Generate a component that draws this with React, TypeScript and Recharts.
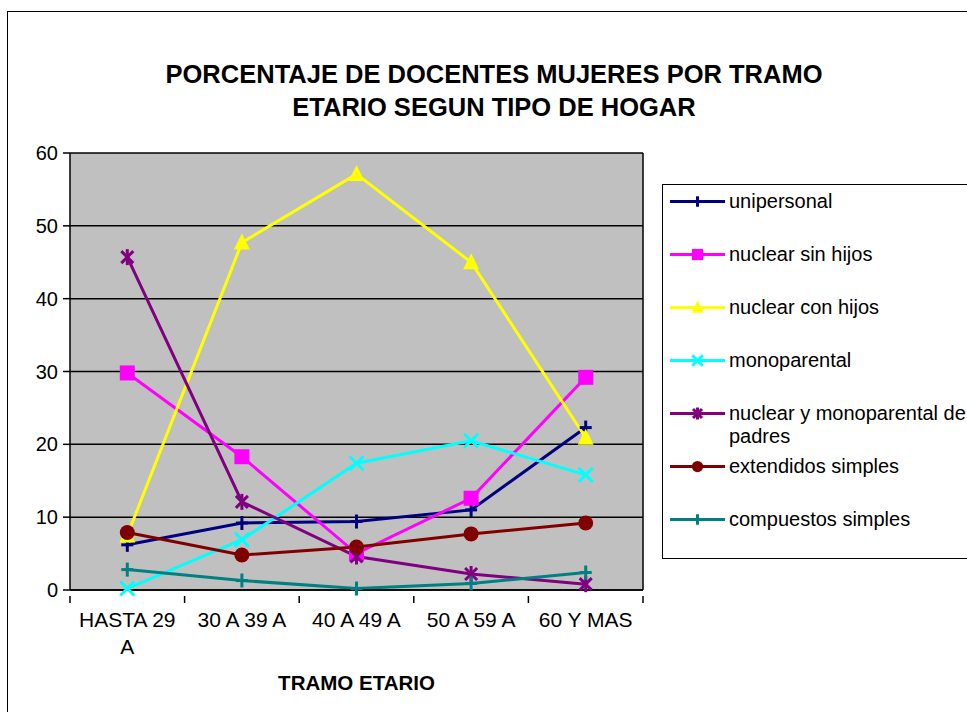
import React from 'react';
import { LineChart, Line, XAxis, YAxis, CartesianGrid, Legend, Label } from 'recharts';

const categories = ['HASTA 29 A', '30 A 39 A', '40 A 49 A', '50 A 59 A', '60 Y MAS'];
const yTicks = [0, 10, 20, 30, 40, 50, 60];

const unipersonal = [6.2, 9.2, 9.4, 11.0, 22.3];
const nuclearSinHijos = [29.8, 18.3, 5.0, 12.6, 29.2];
const nuclearConHijos = [7.5, 47.7, 57.1, 45.0, 20.9];
const monoparental = [0.2, 6.9, 17.4, 20.5, 15.8];
const nuclearYMonoparental = [45.7, 12.1, 4.6, 2.2, 0.8];
const extendidosSimples = [7.9, 4.8, 5.9, 7.7, 9.2];
const compuestosSimples = [2.8, 1.3, 0.2, 0.9, 2.4];

const seriesNames = [
  'unipersonal',
  'nuclear sin hijos',
  'nuclear con hijos',
  'monoparental',
  'nuclear y monoparental de padres',
  'extendidos simples',
  'compuestos simples',
];
const seriesValues = [
  unipersonal,
  nuclearSinHijos,
  nuclearConHijos,
  monoparental,
  nuclearYMonoparental,
  extendidosSimples,
  compuestosSimples,
];
const seriesColors = ['#000080', '#FF00FF', '#FFFF00', '#00FFFF', '#800080', '#800000', '#008080'];
const seriesShapes = ['plus', 'square', 'triangle', 'x', 'star', 'circle', 'plus'];

const data = categories.map((name, i) => {
  const row: Record<string, string | number> = { name };
  seriesNames.forEach((s, j) => {
    row[s] = seriesValues[j][i];
  });
  return row;
});

const FONT = '"Liberation Sans", Arial, Helvetica, sans-serif';
// half of one category band (573px plot / 5 categories)
const HALF_BAND = 57.3;

const drawShape = (shape: string, color: string, cx: number, cy: number, k: number) => {
  const sw = 3;
  switch (shape) {
    case 'plus':
      return (
        <g>
          <line x1={cx} y1={cy - 7 * k} x2={cx} y2={cy + 7 * k} stroke={color} strokeWidth={sw} />
          <line x1={cx - 6 * k} y1={cy} x2={cx + 6 * k} y2={cy} stroke={color} strokeWidth={sw} />
        </g>
      );
    case 'square':
      return <rect x={cx - 7.5 * k} y={cy - 7.5 * k} width={15 * k} height={15 * k} fill={color} />;
    case 'triangle':
      return (
        <polygon
          points={`${cx},${cy - 9 * k} ${cx - 8 * k},${cy + 7 * k} ${cx + 8 * k},${cy + 7 * k}`}
          fill={color}
        />
      );
    case 'x':
      return (
        <g stroke={color} strokeWidth={sw}>
          <line x1={cx - 7 * k} y1={cy - 7 * k} x2={cx + 7 * k} y2={cy + 7 * k} />
          <line x1={cx - 7 * k} y1={cy + 7 * k} x2={cx + 7 * k} y2={cy - 7 * k} />
        </g>
      );
    case 'star':
      return (
        <g stroke={color} strokeWidth={sw}>
          <line x1={cx - 6 * k} y1={cy - 6 * k} x2={cx + 6 * k} y2={cy + 6 * k} />
          <line x1={cx - 6 * k} y1={cy + 6 * k} x2={cx + 6 * k} y2={cy - 6 * k} />
          <line x1={cx} y1={cy - 8 * k} x2={cx} y2={cy + 8 * k} />
        </g>
      );
    default:
      return <circle cx={cx} cy={cy} r={7.5 * k} fill={color} />;
  }
};

const makeDot = (shape: string, color: string) => (props: any) => {
  const { cx, cy, index } = props;
  if (cx == null || cy == null) return <g key={index} />;
  return <g key={`dot-${index}`}>{drawShape(shape, color, cx, cy, 1)}</g>;
};

// greedy word wrap, like the narrow category slots in the original
const wrapLabel = (label: string, maxChars: number) => {
  const lines: string[] = [];
  label.split(' ').forEach((w) => {
    const last = lines[lines.length - 1];
    if (last !== undefined && (last + ' ' + w).length <= maxChars) lines[lines.length - 1] = last + ' ' + w;
    else lines.push(w);
  });
  return lines;
};

const CategoryTick = (props: any) => {
  const { x, y, payload, index, visibleTicksCount } = props;
  const axisY = y - 2;
  const lines = wrapLabel(String(payload.value), 9);
  return (
    <g>
      <line x1={x - HALF_BAND} y1={axisY} x2={x - HALF_BAND} y2={axisY + 7} stroke="#000" strokeWidth={1.5} />
      {index === visibleTicksCount - 1 && (
        <line x1={x + HALF_BAND} y1={axisY} x2={x + HALF_BAND} y2={axisY + 7} stroke="#000" strokeWidth={1.5} />
      )}
      <text x={x} y={y + 29} textAnchor="middle" fontSize={21} fontFamily={FONT} fill="#000">
        {lines.map((l, i) => (
          <tspan key={i} x={x} dy={i === 0 ? 0 : 27}>
            {l}
          </tspan>
        ))}
      </text>
    </g>
  );
};

const LegendBox = () => (
  <div style={{ paddingTop: 5, fontFamily: FONT, fontSize: 20, color: '#000' }}>
    {seriesNames.map((name, i) => (
      <div key={name} style={{ height: 53, display: 'flex', alignItems: 'flex-start' }}>
        <svg width={56} height={23} style={{ marginLeft: 7, flexShrink: 0 }}>
          <line x1={0} y1={11.5} x2={55} y2={11.5} stroke={seriesColors[i]} strokeWidth={3} />
          {drawShape(seriesShapes[i], seriesColors[i], 27.5, 11.5, 0.75)}
        </svg>
        <div style={{ marginLeft: 3, lineHeight: '23px', width: 245 }}>{name}</div>
      </div>
    ))}
  </div>
);

export default function App() {
  return (
    <div
      style={{
        position: 'absolute',
        left: 0,
        top: 0,
        width: 967,
        height: 712,
        overflow: 'hidden',
        background: '#fff',
        fontFamily: FONT,
      }}
    >
      <div
        style={{
          position: 'absolute',
          left: 7,
          top: 11,
          width: 990,
          height: 720,
          border: '1.5px solid #000',
        }}
      />
      <div
        style={{
          position: 'absolute',
          left: 0,
          top: 58,
          width: 988,
          textAlign: 'center',
          fontWeight: 'bold',
          fontSize: 25.5,
          lineHeight: '33px',
          color: '#000',
        }}
      >
        PORCENTAJE DE DOCENTES MUJERES POR TRAMO
        <br />
        ETARIO SEGUN TIPO DE HOGAR
      </div>
      <div style={{ position: 'absolute', left: 0, top: 0 }}>
        <LineChart width={967} height={712} data={data} margin={{ top: 153, right: 324, bottom: 62, left: 10 }}>
          <CartesianGrid
            vertical
            verticalPoints={[643]}
            fill="#C0C0C0"
            stroke="#000"
            strokeWidth={1.5}
            fillOpacity={1}
          />
          <XAxis
            dataKey="name"
            padding={{ left: HALF_BAND, right: HALF_BAND }}
            axisLine={{ stroke: '#000', strokeWidth: 1.5 }}
            tickLine={false}
            tick={<CategoryTick />}
            interval={0}
            height={60}
          >
            <Label
              value="TRAMO ETARIO"
              position="bottom"
              offset={25}
              style={{ fontSize: 20.5, fontWeight: 'bold', fill: '#000', fontFamily: FONT }}
            />
          </XAxis>
          <YAxis
            width={60}
            domain={[0, 60]}
            ticks={yTicks}
            interval={0}
            axisLine={{ stroke: '#000', strokeWidth: 1.5 }}
            tickLine={{ stroke: '#000', strokeWidth: 1.5 }}
            tickSize={7}
            tickMargin={5}
            tick={{ fontSize: 20, fill: '#000', fontFamily: FONT }}
          />
          {seriesNames.map((name, i) => (
            <Line
              key={name}
              dataKey={name}
              name={name}
              stroke={seriesColors[i]}
              strokeWidth={3}
              dot={makeDot(seriesShapes[i], seriesColors[i])}
              activeDot={false}
              isAnimationActive={false}
            />
          ))}
          <Legend
            layout="vertical"
            align="center"
            verticalAlign="middle"
            content={() => <LegendBox />}
            wrapperStyle={{
              left: 662,
              top: 184,
              width: 330,
              height: 375,
              border: '1.5px solid #000',
              background: '#fff',
              boxSizing: 'border-box',
            }}
          />
        </LineChart>
      </div>
    </div>
  );
}
